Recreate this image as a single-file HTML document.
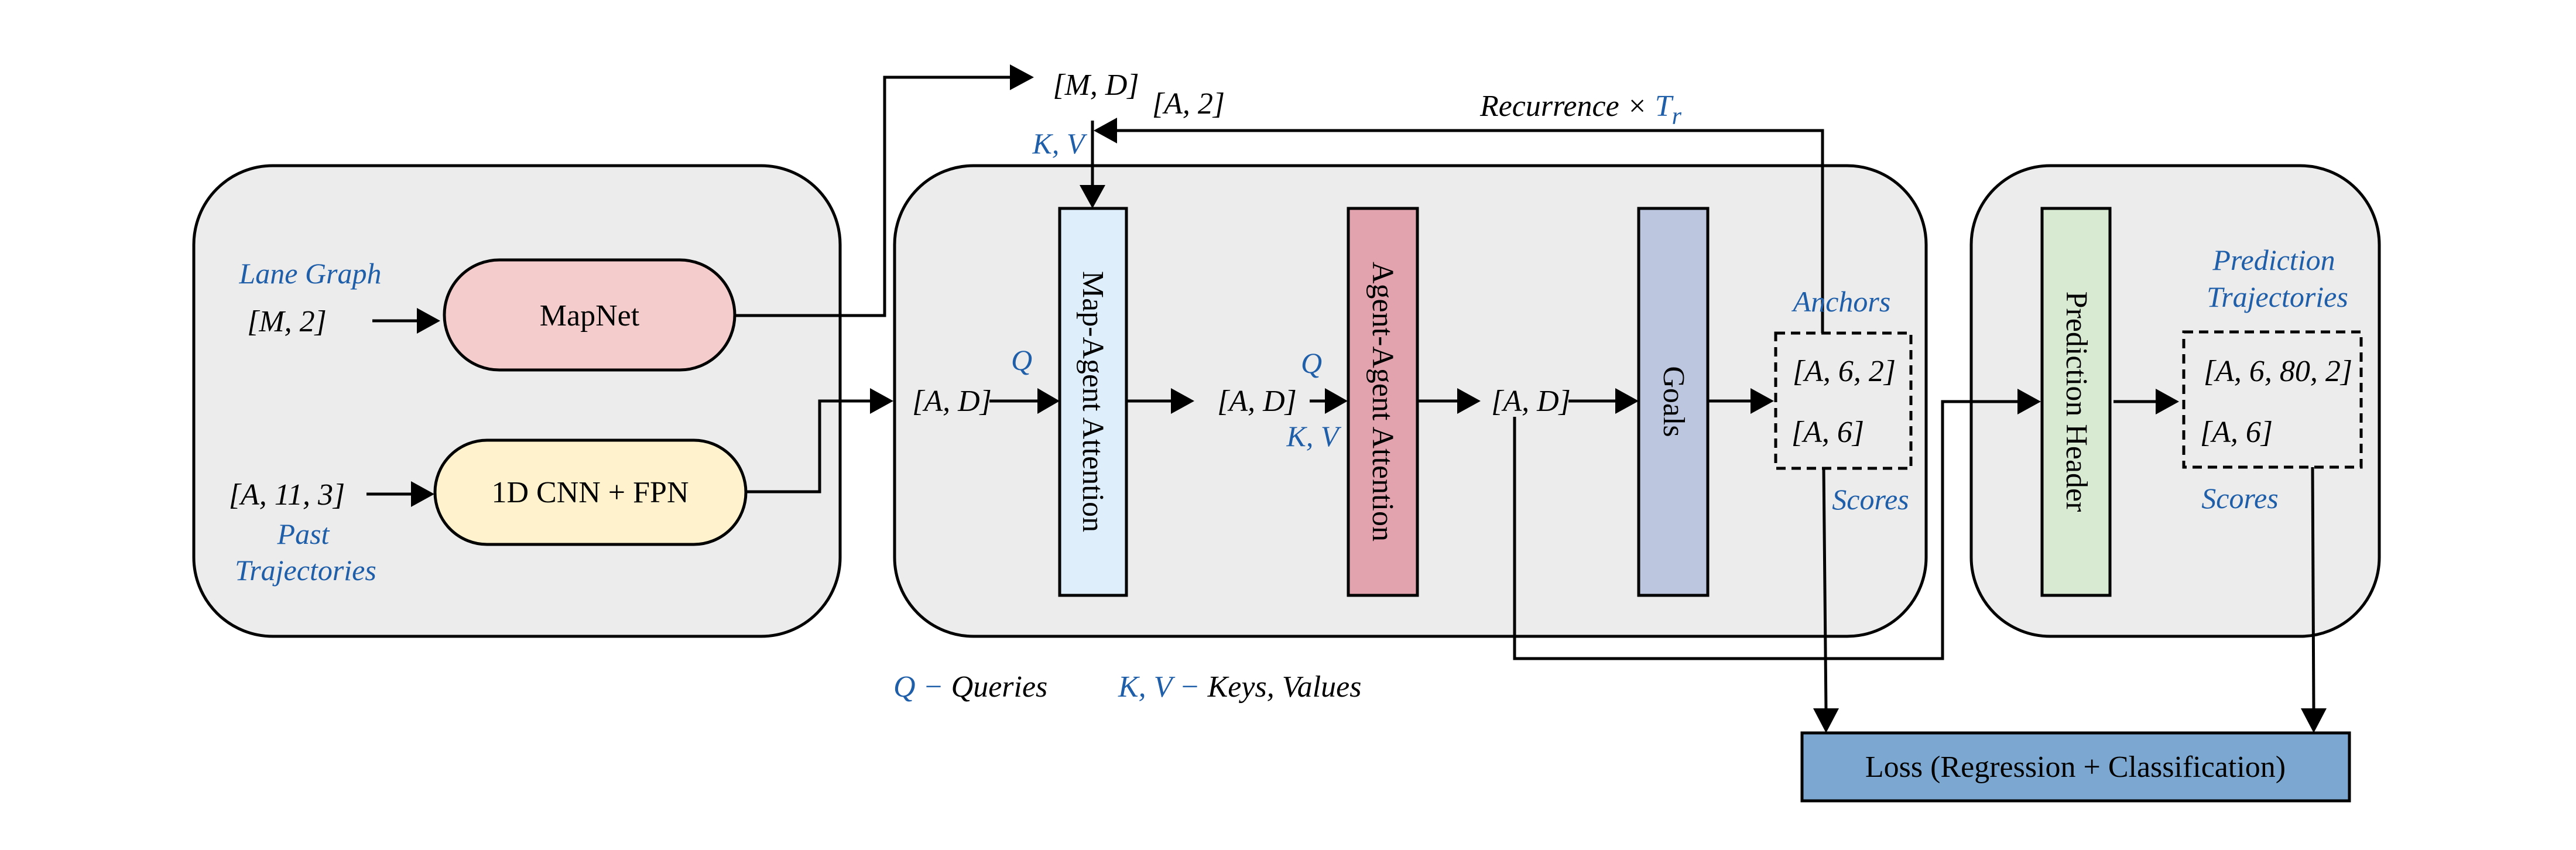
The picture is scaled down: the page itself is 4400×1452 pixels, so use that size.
<!DOCTYPE html>
<html><head><meta charset="utf-8"><style>
html,body{margin:0;padding:0;background:#fff;}
svg{display:block;}
.m{font-family:"Liberation Serif",serif;font-style:italic;font-size:52px;fill:#000;}
.b{fill:#1f5ea8;}
.bl{font-family:"Liberation Serif",serif;font-style:italic;font-size:50px;fill:#1f5ea8;}
.t{font-family:"Liberation Serif",serif;font-size:52px;fill:#000;}
.ln{stroke:#000;stroke-width:5;fill:none;}
</style></head><body>
<svg width="4400" height="1452" viewBox="0 0 4400 1452" xmlns="http://www.w3.org/2000/svg">
<!-- panels -->
<rect x="331" y="283" width="1104" height="804" rx="135" ry="135" fill="#ececec" stroke="#000" stroke-width="5"/>
<rect x="1528" y="283" width="1762" height="804" rx="135" ry="135" fill="#ececec" stroke="#000" stroke-width="5"/>
<rect x="3367" y="283" width="697" height="804" rx="135" ry="135" fill="#ececec" stroke="#000" stroke-width="5"/>

<!-- pills -->
<rect x="759" y="444" width="496" height="188" rx="94" ry="94" fill="#f4cccc" stroke="#000" stroke-width="5"/>
<text class="t" x="1007" y="556" text-anchor="middle">MapNet</text>
<rect x="743" y="752" width="531" height="178" rx="89" ry="89" fill="#fff2cc" stroke="#000" stroke-width="5"/>
<text class="t" x="1008" y="858" text-anchor="middle">1D CNN + FPN</text>

<!-- left labels -->
<text class="bl" x="530" y="484" text-anchor="middle">Lane Graph</text>
<text class="m" x="490" y="566" text-anchor="middle">[M, 2]</text>
<text class="m" x="490" y="862" text-anchor="middle">[A, 11, 3]</text>
<text class="bl" x="518" y="929" text-anchor="middle">Past</text>
<text class="bl" x="522" y="991" text-anchor="middle">Trajectories</text>

<!-- arrows left -->
<line class="ln" x1="636" y1="548" x2="715" y2="548"/><polygon points="712,526 752,548 712,570"/>
<line class="ln" x1="626" y1="844" x2="705" y2="844"/><polygon points="702,822 742,844 702,866"/>

<!-- MapNet output -->
<polyline class="ln" points="1255,539 1511,539 1511,132 1730,132"/><polygon points="1725,110 1766,132 1725,154"/>
<text class="m" x="1872" y="162" text-anchor="middle">[M, D]</text>
<text class="m" x="2030" y="194" text-anchor="middle">[A, 2]</text>

<!-- CNN output -->
<polyline class="ln" points="1274,840 1400,840 1400,685 1490,685"/><polygon points="1486,663 1526,685 1486,707"/>

<!-- KV into Map-Agent -->
<text class="bl" x="1808" y="262" text-anchor="middle">K, V</text>
<line class="ln" x1="1866" y1="206" x2="1866" y2="320"/><polygon points="1844,316 1866,356 1888,316"/>
<!-- recurrence -->
<polyline class="ln" points="3113,569 3113,223 1905,223"/><polygon points="1908,201 1868,223 1908,245"/>
<text class="m" x="2700" y="198" text-anchor="middle" font-size="62">Recurrence × <tspan class="b">T</tspan><tspan class="b" font-size="42" dy="14">r</tspan></text>

<!-- Map-Agent box -->
<rect x="1810" y="356" width="114" height="661" fill="#deeefb" stroke="#000" stroke-width="5"/>
<text class="t" transform="translate(1850,686) rotate(90)" text-anchor="middle" font-size="50">Map-Agent  Attention</text>
<text class="m" x="1626" y="702" text-anchor="middle">[A, D]</text>
<line class="ln" x1="1690" y1="685" x2="1775" y2="685"/><polygon points="1772,663 1810,685 1772,707"/>
<text class="bl" x="1745" y="632" text-anchor="middle">Q</text>
<line class="ln" x1="1924" y1="685" x2="2003" y2="685"/><polygon points="2000,663 2040,685 2000,707"/>

<text class="m" x="2147" y="702" text-anchor="middle">[A, D]</text>
<line class="ln" x1="2237" y1="685" x2="2265" y2="685"/><polygon points="2263,663 2302,685 2263,707"/>
<text class="bl" x="2240" y="637" text-anchor="middle">Q</text>
<text class="bl" x="2242" y="762" text-anchor="middle">K, V</text>

<!-- Agent-Agent -->
<rect x="2303" y="356" width="118" height="661" fill="#e3a3ae" stroke="#000" stroke-width="5"/>
<text class="t" transform="translate(2345,686) rotate(90)" text-anchor="middle" font-size="50">Agent-Agent  Attention</text>
<line class="ln" x1="2421" y1="685" x2="2492" y2="685"/><polygon points="2489,663 2529,685 2489,707"/>
<text class="m" x="2615" y="702" text-anchor="middle">[A, D]</text>
<line class="ln" x1="2679" y1="685" x2="2762" y2="685"/><polygon points="2759,663 2799,685 2759,707"/>

<!-- Goals -->
<rect x="2799" y="356" width="118" height="661" fill="#bdc6df" stroke="#000" stroke-width="5"/>
<text class="t" transform="translate(2842,686) rotate(90)" text-anchor="middle" font-size="50">Goals</text>
<line class="ln" x1="2917" y1="685" x2="2993" y2="685"/><polygon points="2990,663 3030,685 2990,707"/>

<!-- dashed box 1 -->
<rect x="3033" y="569" width="231" height="231" fill="none" stroke="#000" stroke-width="5" stroke-dasharray="16,10"/>
<text class="bl" x="3146" y="532" text-anchor="middle">Anchors</text>
<text class="m" x="3150" y="651" text-anchor="middle">[A, 6, 2]</text>
<text class="m" x="3122" y="755" text-anchor="middle">[A, 6]</text>
<text class="bl" x="3195" y="870" text-anchor="middle">Scores</text>

<!-- [A,D] bypass -->
<polyline class="ln" points="2587,712 2587,1125 3318,1125 3318,686 3448,686"/><polygon points="3446,664 3486,686 3446,708"/>

<!-- Prediction Header -->
<rect x="3488" y="356" width="116" height="661" fill="#d9ead3" stroke="#000" stroke-width="5"/>
<text class="t" transform="translate(3530,686) rotate(90)" text-anchor="middle" font-size="50">Prediction  Header</text>
<line class="ln" x1="3610" y1="686" x2="3685" y2="686"/><polygon points="3682,664 3722,686 3682,708"/>

<!-- dashed box 2 -->
<rect x="3730" y="567" width="303" height="231" fill="none" stroke="#000" stroke-width="5" stroke-dasharray="16,10"/>
<text class="bl" x="3884" y="461" text-anchor="middle">Prediction</text>
<text class="bl" x="3890" y="524" text-anchor="middle">Trajectories</text>
<text class="m" x="3891" y="651" text-anchor="middle">[A, 6, 80, 2]</text>
<text class="m" x="3820" y="755" text-anchor="middle">[A, 6]</text>
<text class="bl" x="3826" y="868" text-anchor="middle">Scores</text>

<!-- to loss -->
<line class="ln" x1="3115" y1="800" x2="3119" y2="1215"/><polygon points="3097,1210 3119,1252 3141,1210"/>
<line class="ln" x1="3950" y1="798" x2="3952" y2="1215"/><polygon points="3930,1210 3952,1252 3974,1210"/>
<rect x="3078" y="1252" width="935" height="116" fill="#7ca7d0" stroke="#000" stroke-width="5"/>
<text class="t" x="3545" y="1327" text-anchor="middle">Loss (Regression + Classification)</text>

<!-- legend -->
<text class="m" x="1526" y="1190" font-size="52"><tspan class="b">Q − </tspan>Queries</text>
<text class="m" x="1910" y="1190" font-size="52"><tspan class="b">K, V − </tspan>Keys, Values</text>
</svg>
</body></html>
